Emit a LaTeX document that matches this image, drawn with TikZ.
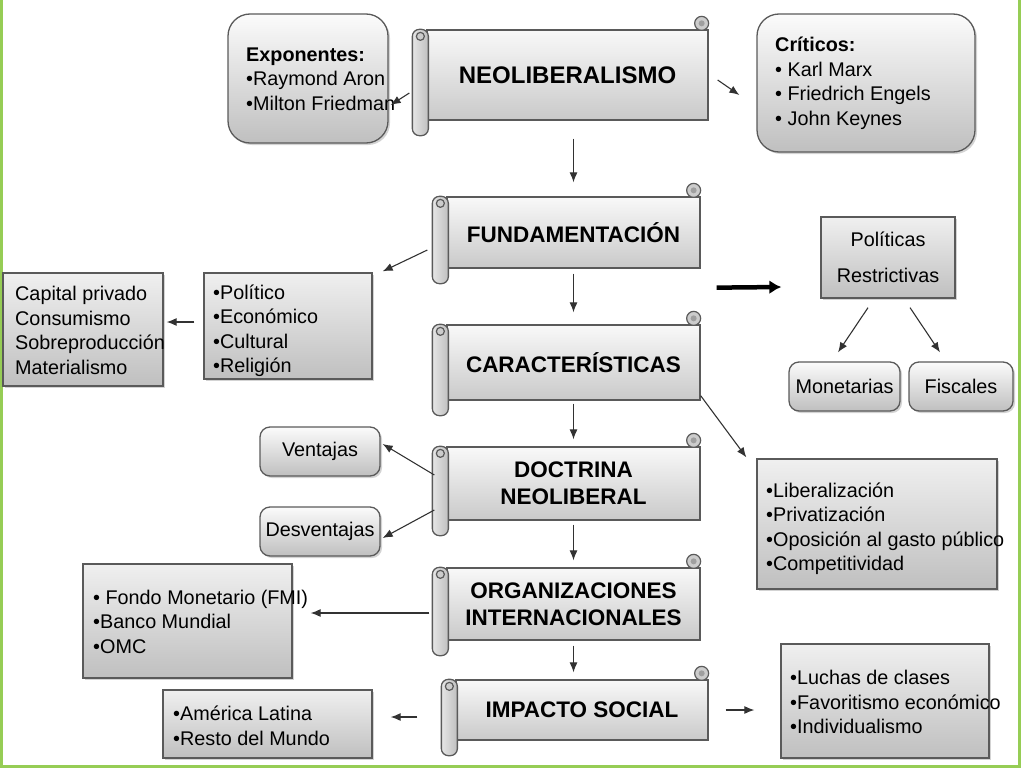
\documentclass[tikz,border=0pt]{standalone}
\usepackage{fontspec}
\setmainfont{Liberation Sans}
\usetikzlibrary{shadows}
\usetikzlibrary{arrows.meta,shapes}
\usetikzlibrary{calc}
\definecolor{linegray}{RGB}{90,90,90}
\definecolor{arrowgray}{RGB}{50,50,50}
\definecolor{rimgreen}{RGB}{150,205,85}
\tikzstyle{scroll}=[draw=linegray, line width=1.3pt, top color=gray!5, bottom color=gray!42, inner sep=0pt, align=center, font=\fontsize{22.5}{27}\selectfont\bfseries]
\tikzstyle{roll}=[draw=linegray, line width=1.3pt, left color=gray!20, right color=gray!50, rounded corners=7pt]
\tikzstyle{curl}=[draw=linegray, line width=1.2pt, fill=gray!40]
\tikzstyle{flatbox}=[draw=linegray, line width=1.3pt, top color=gray!12, bottom color=gray!50, inner sep=0pt, align=center, font=\fontsize{19.8}{24}\selectfont, drop shadow={shadow xshift=2pt,shadow yshift=-2pt,opacity=0.35}]
\tikzstyle{roundbox}=[flatbox, rounded corners=10pt, top color=gray!3]
\tikzstyle{txt}=[inner sep=0pt, align=left, font=\fontsize{19.8}{24.5}\selectfont]
\tikzstyle{edge}=[draw=arrowgray, line width=1.1pt, -{Latex[length=10pt,width=8pt]}]

\begin{document}
\begin{tikzpicture}[x=1pt, y=-1pt]
   \useasboundingbox (0,0) rectangle (1024,768);
   \draw[rimgreen, line width=3pt] (1.5,0) -- (1.5,766.5) -- (1019.5,766.5) -- (1019.5,0);

    % scrolls of the main column
    \foreach \pos/ \name/ \w/ \h/ \label in {{(567.5,75)/neo/281pt/90pt/{\fontsize{24}{28}\selectfont NEOLIBERALISMO}},
        {(573.5,232.5)/fund/253pt/71pt/{FUNDAMENTACIÓN}}, {(573.5,362.5)/car/253pt/75pt/{CARACTERÍSTICAS}},
        {(573.5,483.5)/doc/253pt/73pt/{DOCTRINA\\NEOLIBERAL}}, {(573.5,604)/org/253pt/72pt/{ORGANIZACIONES\\INTERNACIONALES}},
        {(582,710)/imp/252pt/60pt/{IMPACTO SOCIAL}}}
        \node[scroll, minimum width=\w, minimum height=\h] (\name) at \pos {\label};
    \foreach \name in {neo,fund,car,doc,org,imp}{
        \draw[curl] ($(\name.north east)+(-7,-6)$) circle (7);
        \fill[gray!75] ($(\name.north east)+(-7,-6)$) circle (3);
        \draw[roll] ($(\name.north west)+(-14,0)$) rectangle ($(\name.south west)+(2,15)$);
        \draw[curl] ($(\name.north west)+(-6,7)$) circle (4);
    }

    % rounded boxes
    \node[roundbox, rounded corners=22pt, minimum width=160pt, minimum height=129pt] (expo) at (308,78.5) {};
    \node[roundbox, rounded corners=22pt, minimum width=218pt, minimum height=138pt] (crit) at (866,83) {};
    \foreach \pos/ \name/ \w/ \h/ \label in {{(844.5,386.5)/mon/111pt/49pt/Monetarias}, {(961,386.5)/fis/104pt/49pt/Fiscales},
        {(320,451.5)/ven/120pt/49pt/Ventajas}, {(320,531.5)/des/120pt/49pt/Desventajas}}
        \node[roundbox, minimum width=\w, minimum height=\h] (\name) at \pos {\label};

    % square boxes
    \foreach \pos/ \name/ \w/ \h/ \label in {{(288,326)/pol/168pt/106pt/{}}, {(83,329.5)/cap/160pt/113pt/{}},
        {(888,257.5)/restr/134pt/81pt/{Políticas\\[12pt]Restrictivas}}, {(877,524)/lib/240pt/130pt/{}},
        {(187.5,621)/fmi/209pt/114pt/{}}, {(267.5,724)/ame/209pt/68pt/{}}, {(885,701)/luc/208pt/114pt/{}}}
        \node[flatbox, minimum width=\w, minimum height=\h] (\name) at \pos {\label};

    % texts of the boxes
    \foreach \pos/ \name/ \label in {{(246,79)/expot/{\textbf{Exponentes:}\\•Raymond Aron\\•Milton Friedman}},
        {(775,83.5)/critt/{\textbf{Críticos:}\\• Karl Marx\\• Friedrich Engels\\• John Keynes}},
        {(213,331)/polt/{•Político\\•Económico\\•Cultural\\•Religión}},
        {(15,330.5)/capt/{Capital privado\\Consumismo\\Sobreproducción\\Materialismo}},
        {(766,529)/libt/{•Liberalización\\•Privatización\\•Oposición al gasto público\\•Competitividad}},
        {(93,621.5)/fmit/{• Fondo Monetario (FMI)\\•Banco Mundial\\•OMC}},
        {(173,726)/amet/{•América Latina\\•Resto del Mundo}},
        {(790,702)/luct/{•Luchas de clases\\•Favoritismo económico\\•Individualismo}}}
        \node[txt, right] (\name) at \pos {\label};

    % Connect the scrolls down the column
    \foreach \source/ \dest/ \ga/ \gb in {neo/fund/18pt/14pt, fund/car/5pt/12pt, car/doc/3pt/7pt, doc/org/4pt/7pt, org/imp/5pt/7pt}
        \draw[edge, shorten <=\ga, shorten >=\gb] (\source.south -| fund.north) -- (fund.north |- \dest.north);

    % side arrows
    \draw[edge] ($(neo.west)+(-17,18)$) -- ($(expo.east)+(2,26.5)$);
    \draw[edge] ($(neo.east)+(9,5)$) -- ($(crit.west)+(-17,12)$);
    \draw[edge] ($(fund.west)+(-19,17.5)$) -- ($(pol.north east)+(10,-1)$);
    \draw[edge] ($(pol.west)+(-9,-4)$) -- ($(cap.east)+(3,-7.5)$);
    \draw[line width=4.5pt, -{Latex[length=12pt,width=14pt]}] ($(fund.south east)+(16,19)$) -- ($(restr.west)+(-39,29.5)$);
    \draw[edge] ($(restr.south)+(-20,9)$) -- ($(mon.north)+(-6.5,-9)$);
    \draw[edge] ($(restr.south)+(22,9)$) -- ($(fis.north)+(-21,-9)$);
    \draw[edge] ($(car.south east)+(0,-5)$) -- ($(lib.north west)+(-10,-1)$);
    \draw[edge] ($(doc.west)+(-12,-8.5)$) -- ($(ven.east)+(2,-7.5)$);
    \draw[edge] ($(doc.west)+(-12,26.5)$) -- ($(des.east)+(2,6.5)$);
    \draw[edge] ($(org.west)+(-17,9)$) -- ($(fmi.east)+(18,-8)$);
    \draw[edge] ($(imp.west)+(-38,7)$) -- ($(ame.east)+(18,-7)$);
    \draw[edge] ($(imp.east)+(17,0)$) -- ($(luc.west)+(-26,9)$);
\end{tikzpicture}
\end{document}
